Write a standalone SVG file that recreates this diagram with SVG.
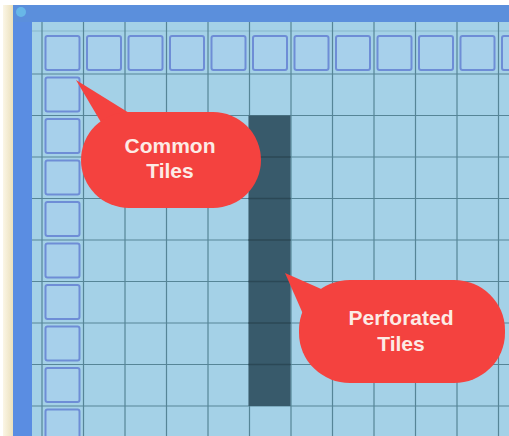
<svg xmlns="http://www.w3.org/2000/svg" width="509" height="436" viewBox="0 0 509 436">
<defs>
<style>
.gl{stroke:#568597;stroke-width:1.2;fill:none}
.gd{stroke:#2b4856;stroke-width:1.3;fill:none}
.tile{fill:#a7d0eb;stroke:#6e8dd6;stroke-width:2}
.bub{fill:#f4423f}
.lbl{font-family:"Liberation Sans",Arial,sans-serif;font-weight:bold;font-size:21px;fill:#fcebe6;text-anchor:middle}
</style>
<linearGradient id="cream" x1="0" x2="1" y1="0" y2="0">
<stop offset="0" stop-color="#fbf6e6"/>
<stop offset="1" stop-color="#ebe0bc"/>
</linearGradient>
</defs>
<rect x="0" y="0" width="509" height="436" fill="#ffffff"/>
<rect x="3" y="5" width="10" height="431" fill="url(#cream)"/>
<rect x="13" y="5" width="19" height="431" fill="#5a8de2"/>
<rect x="13" y="5" width="496" height="17" fill="#5b8fdc"/>
<circle cx="21" cy="12" r="5" fill="#72d2ee" opacity="0.6"/>
<rect x="32" y="22" width="477" height="414" fill="#a4d1e7"/>
<g id="grid">
<line class="gl" x1="32" y1="31" x2="509" y2="31" opacity="0.35"/>
<path class="gl" d="M42,22V436M83.5,22V436M125,22V436M166.5,22V436M208,22V436M249.5,22V436M291,22V436M332.5,22V436M374,22V436M415.5,22V436M457,22V436M498.5,22V436"/>
<path class="gl" d="M32,74H509M32,115.5H509M32,157H509M32,198.5H509M32,240H509M32,281.5H509M32,323H509M32,364.5H509M32,406H509"/>
</g>
<g id="perforated-tiles">
<rect x="248.5" y="115.5" width="42" height="290.5" fill="#385a6b"/>
<path class="gd" d="M248.5,157H290.5M248.5,198.5H290.5M248.5,240H290.5M248.5,281.5H290.5M248.5,323H290.5M248.5,364.5H290.5"/>
</g>
<g id="common-tiles">
<rect class="tile" x="45.5" y="36" width="34" height="34" rx="2"/>
<rect class="tile" x="87" y="36" width="34" height="34" rx="2"/>
<rect class="tile" x="128.5" y="36" width="34" height="34" rx="2"/>
<rect class="tile" x="170" y="36" width="34" height="34" rx="2"/>
<rect class="tile" x="211.5" y="36" width="34" height="34" rx="2"/>
<rect class="tile" x="253" y="36" width="34" height="34" rx="2"/>
<rect class="tile" x="294.5" y="36" width="34" height="34" rx="2"/>
<rect class="tile" x="336" y="36" width="34" height="34" rx="2"/>
<rect class="tile" x="377.5" y="36" width="34" height="34" rx="2"/>
<rect class="tile" x="419" y="36" width="34" height="34" rx="2"/>
<rect class="tile" x="460.5" y="36" width="34" height="34" rx="2"/>
<rect class="tile" x="502" y="36" width="34" height="34" rx="2"/>
<rect class="tile" x="45.5" y="77.5" width="34" height="34" rx="2"/>
<rect class="tile" x="45.5" y="119" width="34" height="34" rx="2"/>
<rect class="tile" x="45.5" y="160.5" width="34" height="34" rx="2"/>
<rect class="tile" x="45.5" y="202" width="34" height="34" rx="2"/>
<rect class="tile" x="45.5" y="243.5" width="34" height="34" rx="2"/>
<rect class="tile" x="45.5" y="285" width="34" height="34" rx="2"/>
<rect class="tile" x="45.5" y="326.5" width="34" height="34" rx="2"/>
<rect class="tile" x="45.5" y="368" width="34" height="34" rx="2"/>
<rect class="tile" x="45.5" y="409.5" width="34" height="34" rx="2"/>
</g>
<g id="callout-common">
<polygon class="bub" points="76,80 102,124 134,116"/>
<rect class="bub" x="81" y="112" width="180" height="96" rx="48" ry="48"/>
<text class="lbl" x="170" y="153">Common</text>
<text class="lbl" x="170" y="178">Tiles</text>
</g>
<g id="callout-perforated">
<polygon class="bub" points="285,273 303,314 328,292"/>
<rect class="bub" x="299" y="280" width="206" height="103" rx="51" ry="50"/>
<text class="lbl" x="401" y="325">Perforated</text>
<text class="lbl" x="401" y="351">Tiles</text>
</g>
</svg>
